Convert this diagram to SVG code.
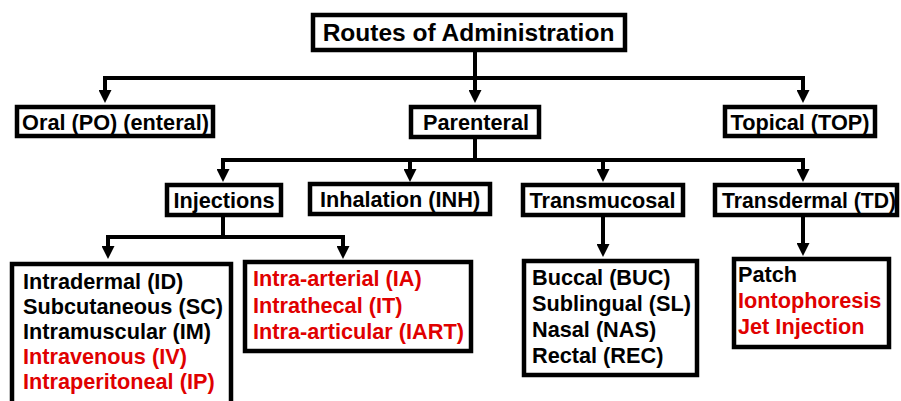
<svg xmlns="http://www.w3.org/2000/svg" width="901" height="401" viewBox="0 0 901 401">
<defs>
<style>
.box{fill:#fff;stroke:#000;stroke-width:4.5}
.t{font-family:"Liberation Sans",Arial,sans-serif;font-weight:bold;font-size:21.7px;fill:#000}
.c{text-anchor:middle}
.red{fill:#e00000}
.ln{fill:none;stroke:#000;stroke-width:4}
.ar{marker-end:url(#arrow)}
</style>
<marker id="arrow" markerUnits="userSpaceOnUse" markerWidth="13" markerHeight="13" refX="5" refY="6.5" orient="auto">
<path d="M0,0 L13,6.5 L0,13 Z" fill="#000"/>
</marker>
</defs>
<rect width="901" height="401" fill="#fff"/>
<g id="connectors">
<path class="ln" d="M475,50 V78 M105,78 H803"/>
<path class="ln ar" d="M105,76 V95"/>
<path class="ln ar" d="M475,76 V95"/>
<path class="ln ar" d="M803,76 V95"/>
<path class="ln" d="M475,137 V160 M223,160 H803"/>
<path class="ln ar" d="M223,158 V174"/>
<path class="ln ar" d="M410,158 V174"/>
<path class="ln ar" d="M603,158 V174"/>
<path class="ln ar" d="M803,158 V174"/>
<path class="ln" d="M223,215 V237 M108,237 H343"/>
<path class="ln ar" d="M108,235 V251"/>
<path class="ln ar" d="M343,235 V251"/>
<path class="ln ar" d="M603,215 V249"/>
<path class="ln ar" d="M803,215 V248"/>
</g>
<g id="root">
<rect class="box" x="313" y="15" width="312" height="35"/>
<text class="t c" x="468.5" y="40.5" style="font-size:24.5px">Routes of Administration</text>
</g>
<g id="oral">
<rect class="box" x="17" y="107" width="196" height="29"/>
<text class="t c" x="115.5" y="130">Oral (PO) (enteral)</text>
</g>
<g id="parenteral">
<rect class="box" x="411" y="107" width="128" height="30"/>
<text class="t c" x="476" y="130">Parenteral</text>
</g>
<g id="topical">
<rect class="box" x="725" y="107" width="150" height="29"/>
<text class="t c" x="800" y="130">Topical (TOP)</text>
</g>
<g id="injections">
<rect class="box" x="167" y="185" width="114" height="30"/>
<text class="t c" x="224" y="207.5">Injections</text>
</g>
<g id="inhalation">
<rect class="box" x="310" y="184" width="180" height="30"/>
<text class="t c" x="400" y="207">Inhalation (INH)</text>
</g>
<g id="transmucosal">
<rect class="box" x="523" y="185" width="160" height="30"/>
<text class="t c" x="602.5" y="207.5">Transmucosal</text>
</g>
<g id="transdermal">
<rect class="box" x="715" y="185" width="182" height="30"/>
<text class="t c" x="809" y="207.5" textLength="174" lengthAdjust="spacingAndGlyphs">Transdermal (TD)</text>
</g>
<g id="injection-list-1">
<rect class="box" x="12" y="264" width="219" height="150"/>
<text class="t" x="23" y="289">Intradermal (ID)</text>
<text class="t" x="23" y="314">Subcutaneous (SC)</text>
<text class="t" x="23" y="339">Intramuscular (IM)</text>
<text class="t red" x="23" y="364">Intravenous (IV)</text>
<text class="t red" x="23" y="389">Intraperitoneal (IP)</text>
</g>
<g id="injection-list-2">
<rect class="box" x="245" y="262" width="226" height="89"/>
<text class="t red" x="253" y="286">Intra-arterial (IA)</text>
<text class="t red" x="253" y="312.5">Intrathecal (IT)</text>
<text class="t red" x="253" y="339">Intra-articular (IART)</text>
</g>
<g id="transmucosal-list">
<rect class="box" x="524" y="261" width="173" height="114"/>
<text class="t" x="532" y="285">Buccal (BUC)</text>
<text class="t" x="532" y="311">Sublingual (SL)</text>
<text class="t" x="532" y="337">Nasal (NAS)</text>
<text class="t" x="532" y="363">Rectal (REC)</text>
</g>
<g id="transdermal-list">
<rect class="box" x="734" y="259" width="155" height="88"/>
<text class="t" x="738" y="282">Patch</text>
<text class="t red" x="738" y="308">Iontophoresis</text>
<text class="t red" x="738" y="334">Jet Injection</text>
</g>
</svg>
